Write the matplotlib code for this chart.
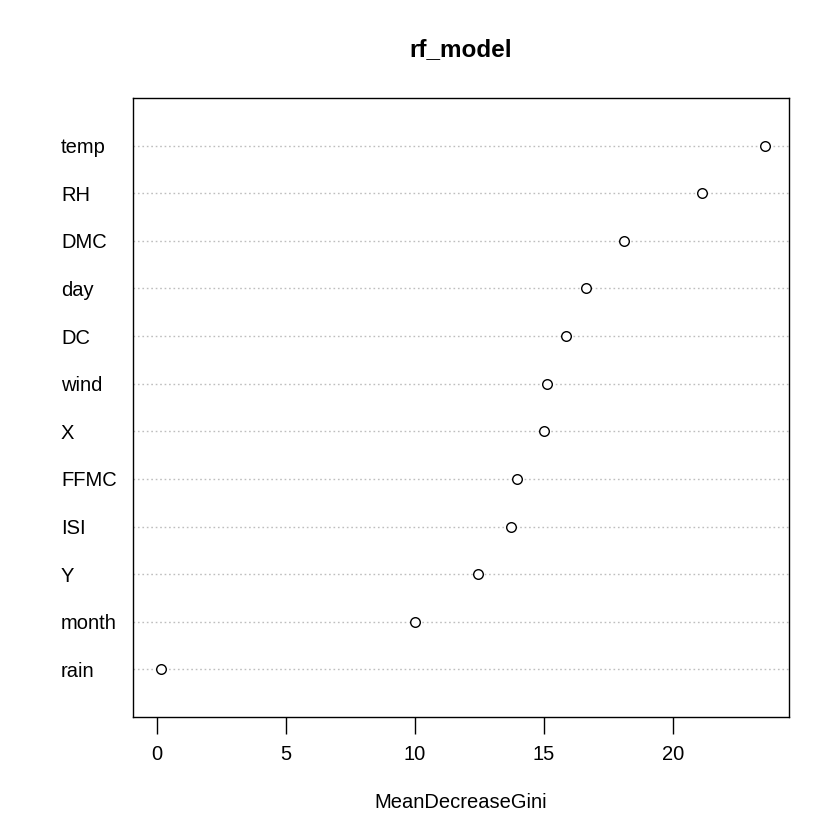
import matplotlib
matplotlib.use("Agg")
import matplotlib.pyplot as plt
import matplotlib.transforms as mtransforms

labels = ["temp", "RH", "DMC", "day", "DC", "wind", "X", "FFMC", "ISI", "Y", "month", "rain"]
values = [23.57, 21.12, 18.10, 16.63, 15.85, 15.12, 15.00, 13.95, 13.72, 12.44, 10.00, 0.16]
xticks = [0, 5, 10, 15, 20]

plt.rcParams['font.family'] = ['Liberation Sans', 'DejaVu Sans']

fig = plt.figure(figsize=(8.4, 8.4), dpi=100)
ax = fig.add_axes([133/840, 1 - 717/840, (789 - 133)/840, (717 - 98)/840])

n = len(labels)
ypos = list(range(n, 0, -1))
for y in ypos:
    ax.axhline(y, color='#bebebe', linestyle=(0, (1.2, 2)), linewidth=1, zorder=1)
ax.scatter(values, ypos, s=48, facecolors='white', edgecolors='black', linewidths=1.0, zorder=3)

ax.set_xlim(-0.93, 24.5)
ax.set_ylim(0, n + 1)
ax.set_xticks(xticks)
ax.set_xticklabels([str(t) for t in xticks], fontsize=14.5)
ax.tick_params(axis='x', length=12, width=1, pad=8, color='black')
ax.set_yticks([])
trans = mtransforms.blended_transform_factory(fig.transFigure, ax.transData)
for lab, y in zip(labels, ypos):
    ax.text(61/840, y, lab, transform=trans, ha='left', va='center_baseline', fontsize=14.5)
for s in ax.spines.values():
    s.set_linewidth(1)
    s.set_color('black')

fig.text(461/840, 1 - 50/840, "rf_model", ha='center', va='center', fontsize=17.5, fontweight='bold')
fig.text(461/840, 1 - 802/840, "MeanDecreaseGini", ha='center', va='center', fontsize=14.5)

fig.savefig("out.png", dpi=100)
